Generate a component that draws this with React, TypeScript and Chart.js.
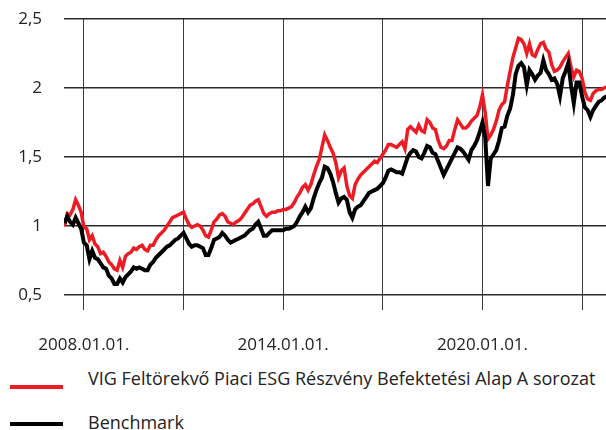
import React, { useEffect, useRef } from "react";
import { Chart, registerables } from "chart.js";

Chart.register(...registerables);

const FUND_LABEL = "VIG Feltörekvő Piaci ESG Részvény Befektetési Alap A sorozat";
const BENCH_LABEL = "Benchmark";

// monthly observations starting June 2007
const START_YEAR = 2007;
const START_MONTH = 6;

const fund = [
  1.00, 1.09, 1.08, 1.12, 1.19, 1.15, 1.10,
  0.99, 0.98, 0.90, 0.93, 0.87, 0.85, 0.80, 0.81, 0.78, 0.74, 0.72, 0.69,
  0.68, 0.75, 0.70, 0.78, 0.80, 0.81, 0.84, 0.83, 0.85, 0.86, 0.83, 0.82,
  0.86, 0.86, 0.90, 0.93, 0.95, 0.97, 1.00, 1.03, 1.06, 1.07, 1.08, 1.09,
  1.10, 1.05, 1.01, 0.99, 1.00, 1.01, 1.00, 0.97, 0.93, 0.92, 0.97, 1.03,
  1.05, 1.08, 1.09, 1.07, 1.03, 1.02, 1.01, 1.03, 1.04, 1.06, 1.09, 1.12,
  1.15, 1.16, 1.18, 1.19, 1.14, 1.09, 1.07, 1.09, 1.10, 1.10, 1.11, 1.11,
  1.12, 1.12, 1.13, 1.14, 1.17, 1.21, 1.24, 1.28, 1.30, 1.26, 1.30, 1.37,
  1.43, 1.48, 1.57, 1.66, 1.62, 1.57, 1.53, 1.46, 1.35, 1.40, 1.42, 1.29,
  1.22, 1.20, 1.30, 1.34, 1.37, 1.39, 1.41, 1.43, 1.45, 1.47, 1.46, 1.49,
  1.52, 1.55, 1.59, 1.59, 1.58, 1.57, 1.59, 1.61, 1.56, 1.70, 1.72, 1.70,
  1.68, 1.73, 1.69, 1.68, 1.77, 1.75, 1.71, 1.70, 1.62, 1.57, 1.56, 1.58,
  1.62, 1.62, 1.70, 1.77, 1.74, 1.71, 1.71, 1.73, 1.76, 1.78, 1.80, 1.86,
  1.95, 1.82, 1.63, 1.66, 1.70, 1.76, 1.84, 1.88, 1.90, 2.02, 2.12, 2.22,
  2.29, 2.36, 2.35, 2.32, 2.25, 2.32, 2.24, 2.23, 2.28, 2.32, 2.33, 2.28,
  2.26, 2.17, 2.12, 2.13, 2.15, 2.19, 2.22, 2.25, 2.15, 2.08, 2.13, 2.12,
  2.07, 1.97, 1.92, 1.91, 1.96, 1.98, 1.99, 1.99, 2.00, 2.01,
];

const benchmark = [
  1.02, 1.07, 1.03, 1.01, 1.06, 1.02, 0.98,
  0.88, 0.86, 0.76, 0.82, 0.77, 0.76, 0.73, 0.70, 0.69, 0.64, 0.62, 0.58,
  0.58, 0.62, 0.59, 0.63, 0.65, 0.67, 0.70, 0.69, 0.70, 0.69, 0.68, 0.68,
  0.72, 0.74, 0.77, 0.79, 0.81, 0.83, 0.85, 0.86, 0.88, 0.90, 0.91, 0.93,
  0.95, 0.91, 0.87, 0.85, 0.86, 0.86, 0.85, 0.84, 0.79, 0.79, 0.84, 0.90,
  0.91, 0.92, 0.95, 0.93, 0.90, 0.88, 0.89, 0.90, 0.91, 0.92, 0.93, 0.95,
  0.97, 0.98, 1.01, 1.03, 0.98, 0.93, 0.93, 0.95, 0.97, 0.97, 0.97, 0.97,
  0.97, 0.98, 0.98, 0.99, 1.00, 1.03, 1.07, 1.10, 1.14, 1.10, 1.13, 1.20,
  1.26, 1.31, 1.35, 1.43, 1.42, 1.38, 1.32, 1.24, 1.17, 1.20, 1.21, 1.19,
  1.10, 1.06, 1.12, 1.14, 1.15, 1.18, 1.21, 1.24, 1.25, 1.26, 1.27, 1.29,
  1.31, 1.35, 1.40, 1.41, 1.40, 1.39, 1.39, 1.38, 1.44, 1.50, 1.53, 1.55,
  1.54, 1.50, 1.49, 1.53, 1.58, 1.57, 1.53, 1.52, 1.47, 1.42, 1.37, 1.41,
  1.45, 1.49, 1.53, 1.57, 1.56, 1.54, 1.51, 1.48, 1.55, 1.58, 1.62, 1.68,
  1.75, 1.64, 1.29, 1.49, 1.52, 1.55, 1.62, 1.71, 1.72, 1.80, 1.85, 1.95,
  2.10, 2.16, 2.18, 2.15, 2.02, 2.13, 2.10, 2.06, 2.09, 2.11, 2.20, 2.13,
  2.10, 2.06, 2.07, 2.03, 1.94, 2.07, 2.12, 2.18, 2.02, 1.89, 2.04, 2.04,
  1.94, 1.86, 1.84, 1.79, 1.84, 1.87, 1.90, 1.91, 1.93, 1.94,
];

const xGridYears = [2008, 2011, 2014, 2017, 2020, 2023];
const xLabelYears = [2008, 2014, 2020];
const yTicks = [0.5, 1, 1.5, 2, 2.5];
const X_MIN = 2007.4;
const X_MAX = 2023.72;

const RED = "#ed1c24";
const BLACK = "#000000";
const TEXT = "#222222";
const FONT = "'Open Sans', 'Noto Sans', sans-serif";

const monthPos = fund.map((_, i) => START_YEAR + (START_MONTH - 1 + i) / 12);

export default function App() {
  const ref = useRef<HTMLCanvasElement | null>(null);

  useEffect(() => {
    document.body.style.margin = "0";
    const canvas = ref.current;
    if (!canvas) return;
    const chart = new Chart(canvas, {
      type: "line",
      data: {
        datasets: [
          {
            label: FUND_LABEL,
            data: fund.map((v, i) => ({ x: monthPos[i], y: v })),
            borderColor: RED,
            backgroundColor: RED,
            borderWidth: 3.5,
            pointRadius: 0,
            tension: 0,
            order: 1,
          },
          {
            label: BENCH_LABEL,
            data: benchmark.map((v, i) => ({ x: monthPos[i], y: v })),
            borderColor: BLACK,
            backgroundColor: BLACK,
            borderWidth: 4,
            pointRadius: 0,
            tension: 0,
            order: 0,
          },
        ],
      },
      options: {
        animation: false,
        responsive: false,
        maintainAspectRatio: false,
        layout: { padding: { top: 19, left: 0, right: 0, bottom: 0 } },
        plugins: {
          legend: { display: false },
          tooltip: { enabled: false },
        },
        scales: {
          x: {
            type: "linear",
            min: X_MIN,
            max: X_MAX,
            afterBuildTicks: (s: any) => {
              s.ticks = xGridYears.map((v) => ({ value: v }));
            },
            afterFit: (s: any) => {
              s.height = 65;
              s.paddingLeft = 0;
              s.paddingRight = 0;
            },
            ticks: {
              autoSkip: false,
              maxRotation: 0,
              padding: 25,
              color: TEXT,
              font: { family: FONT, size: 17 },
              callback: (v: any) => (xLabelYears.includes(Number(v)) ? `${v}.01.01.` : ""),
            },
            grid: {
              color: "#3a3a3a",
              lineWidth: 1,
              drawTicks: true,
              tickLength: 15,
              tickColor: "#3a3a3a",
            },
            border: { display: false },
          },
          y: {
            type: "linear",
            min: 0.5,
            max: 2.5,
            afterBuildTicks: (s: any) => {
              s.ticks = yTicks.map((v) => ({ value: v }));
            },
            afterFit: (s: any) => {
              s.width = 64;
              s.paddingTop = 0;
              s.paddingBottom = 0;
            },
            ticks: {
              padding: 22,
              color: TEXT,
              font: { family: FONT, size: 17 },
              callback: (v: any) => String(v).replace(".", ","),
            },
            grid: {
              color: "#2a2a2a",
              lineWidth: 1.6,
              drawTicks: false,
            },
            border: { display: false },
          },
        },
      },
    });
    return () => chart.destroy();
  }, []);

  const legendText: React.CSSProperties = {
    position: "absolute",
    left: 88,
    fontFamily: FONT,
    fontSize: 18,
    lineHeight: "24px",
    color: TEXT,
    whiteSpace: "nowrap",
  };
  const legendLine: React.CSSProperties = {
    position: "absolute",
    left: 10,
    width: 53,
    height: 4,
  };

  return (
    <div style={{ position: "absolute", left: 0, top: 0, width: 606, height: 430, background: "#fff", overflow: "hidden" }}>
      <canvas ref={ref} width={606} height={360} style={{ display: "block", width: 606, height: 360 }} />
      <div style={{ ...legendLine, top: 385, background: RED }} />
      <div style={{ ...legendText, top: 366 }}>{FUND_LABEL}</div>
      <div style={{ ...legendLine, top: 422, background: BLACK }} />
      <div style={{ ...legendText, top: 410 }}>{BENCH_LABEL}</div>
    </div>
  );
}
